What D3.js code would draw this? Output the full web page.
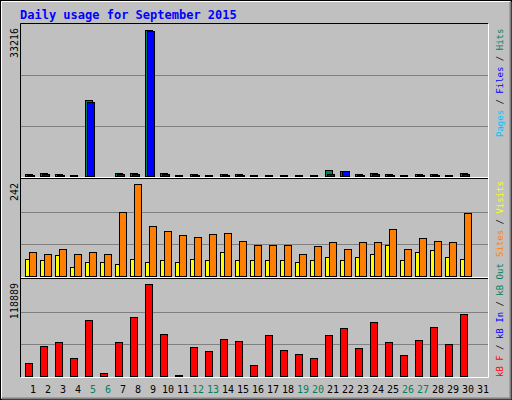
<!DOCTYPE html>
<html><head><meta charset="utf-8">
<script src="https://cdn.jsdelivr.net/npm/d3@7"></script>
<style>body{margin:0;background:#fff}</style>
</head><body>
<div id="chart"></div>
<script>
var days = d3.range(1, 32);
var weekend = [5, 6, 12, 13, 19, 20, 26, 27];
var hits = [680, 900, 680, 450, 17300, 230, 900, 900, 33216, 900, 450, 680, 450, 680, 680, 450, 450, 450, 450, 450, 1600, 1360, 680, 900, 680, 450, 680, 680, 450, 900, 0];
var files = [450, 680, 450, 230, 16900, 230, 680, 680, 33000, 680, 230, 450, 230, 450, 450, 230, 230, 230, 230, 230, 680, 1360, 450, 680, 450, 230, 450, 450, 230, 680, 0];
var pages = [120, 150, 120, 90, 200, 60, 150, 150, 250, 150, 90, 120, 90, 120, 120, 90, 90, 90, 90, 90, 150, 150, 120, 150, 120, 90, 120, 120, 90, 150, 0];
var visits = [48, 45, 56, 25, 40, 38, 35, 48, 38, 43, 38, 48, 43, 64, 45, 43, 45, 45, 38, 43, 51, 45, 51, 61, 82, 43, 66, 69, 53, 48, 0];
var sites = [64, 61, 72, 59, 64, 59, 169, 242, 132, 121, 108, 103, 111, 114, 93, 82, 82, 82, 59, 80, 90, 72, 90, 90, 124, 72, 101, 93, 90, 166, 0];
var kbytes = [17360, 39500, 44700, 23870, 73350, 5640, 44700, 77250, 118889, 55120, 3040, 38190, 32980, 48610, 46000, 14760, 53820, 34290, 29080, 23870, 53820, 62930, 36890, 70740, 44700, 27780, 47310, 64230, 42100, 81160, 0];

var W = 512, H = 400;
var svg = d3.select("#chart").append("svg").attr("width", W).attr("height", H)
  .style("font-family", "'DejaVu Sans Mono', monospace");

svg.append("rect").attr("width", W).attr("height", H).attr("fill", "#c0c0c0");
// frame
svg.append("rect").attr("x", 0.5).attr("y", 0.5).attr("width", W - 1).attr("height", H - 1)
  .attr("fill", "none").attr("stroke", "#000");
svg.append("path").attr("d", "M1.5,397.5V1.5H509.5").attr("fill", "none").attr("stroke", "#fff");
svg.append("path").attr("d", "M2,398.5H510.5V2").attr("fill", "none").attr("stroke", "#808080").attr("stroke-width", 2);

svg.append("text").attr("x", 20).attr("y", 19).attr("fill", "#0000ff")
  .attr("font-size", "12px").attr("font-weight", "bold").text("Daily usage for September 2015");

var left = function(d, i) { return 25 + 15 * i; };

var panels = [
  {top: 24, bottom: 177, maxTop: 30, max: 33216},
  {top: 179, bottom: 277, maxTop: 184, max: 242},
  {top: 279, bottom: 377, maxTop: 284, max: 118889}
];
panels.forEach(function(p) {
  p.y = d3.scaleLinear().domain([0, p.max]).range([p.bottom, p.maxTop]);
  var h = p.bottom - p.top;
  [1, 2].forEach(function(k) {
    var gy = Math.round(p.top + h * k / 3) + 0.5;
    svg.append("line").attr("x1", 21).attr("x2", 488).attr("y1", gy).attr("y2", gy)
      .attr("stroke", "#808080");
  });
  svg.append("text").attr("transform", "translate(18," + (p.top + 4) + ") rotate(-90)")
    .attr("text-anchor", "end").attr("font-size", "10px").attr("fill", "#000").text(p.max);
});

function bars(data, p, dx, w, color) {
  svg.append("g").selectAll("rect").data(data).enter().append("rect")
    .attr("x", function(d, i) { return left(d, i) + dx + 0.5; })
    .attr("y", function(d) { return Math.round(p.y(d)) + 0.5; })
    .attr("width", w)
    .attr("height", function(d) { return Math.max(0, p.bottom - Math.round(p.y(d)) - 1); })
    .attr("fill", color).attr("stroke", "#000")
    .style("display", function(d) { return d > 0 ? null : "none"; });
}
bars(hits, panels[0], 0, 7, "#00805c");
bars(files, panels[0], 2, 7, "#0000ff");
bars(pages, panels[0], 4, 7, "#00c0ff");
bars(visits, panels[1], 0, 5, "#ffff00");
bars(sites, panels[1], 4, 7, "#ff8000");
bars(kbytes, panels[2], 0, 7, "#ff0000");

// plot box edges
svg.append("path").attr("d", "M20.5,377V23.5H488").attr("fill", "none").attr("stroke", "#000");
svg.append("path").attr("d", "M21,377.5H488.5V24").attr("fill", "none").attr("stroke", "#fff");
[177.5, 277.5].forEach(function(yy) {
  svg.append("line").attr("x1", 21).attr("x2", 488).attr("y1", yy).attr("y2", yy).attr("stroke", "#fff");
  svg.append("line").attr("x1", 21).attr("x2", 488).attr("y1", yy + 1).attr("y2", yy + 1).attr("stroke", "#000");
});

// day labels
svg.append("g").selectAll("text").data(days).enter().append("text")
  .attr("x", function(d, i) { return left(d, i) + 8; })
  .attr("y", 393).attr("text-anchor", "middle").attr("font-size", "10px")
  .attr("fill", function(d) { return weekend.indexOf(d) >= 0 ? "#00805c" : "#000"; })
  .text(function(d) { return d; });

// right legends
function legend(y0, parts) {
  var t = svg.append("text").attr("transform", "translate(503," + y0 + ") rotate(-90)")
    .attr("font-size", "9px");
  parts.forEach(function(pt) { t.append("tspan").attr("fill", pt[1]).text(pt[0]); });
}
legend(137, [["Pages", "#00c0ff"], [" / ", "#000"], ["Files", "#0000ff"], [" / ", "#000"], ["Hits", "#00805c"]]);
legend(257, [["Sites", "#ff8000"], [" / ", "#000"], ["Visits", "#ffff00"]]);
legend(377, [["kB F", "#ff0000"], [" / ", "#000"], ["kB In", "#0000ff"], [" / ", "#000"], ["kB Out", "#00805c"]]);
</script>
</body></html>
